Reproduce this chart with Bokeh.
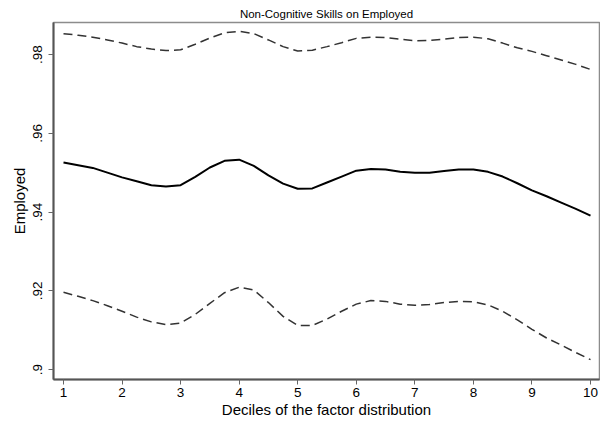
from bokeh.plotting import figure
from bokeh.models import Range1d, FixedTicker
from bokeh.embed import file_html
from bokeh.resources import INLINE

deciles = [1.00, 1.25, 1.50, 1.75, 2.00, 2.25, 2.50, 2.75, 3.00, 3.25, 3.50, 3.75,
           4.00, 4.25, 4.50, 4.75, 5.00, 5.25, 5.50, 5.75, 6.00, 6.25, 6.50, 6.75,
           7.00, 7.25, 7.50, 7.75, 8.00, 8.25, 8.50, 8.75, 9.00, 9.25, 9.50, 9.75, 10.00]

employed = [0.9526, 0.9519, 0.9512, 0.9500, 0.9488, 0.9478, 0.9468, 0.9465, 0.9468,
            0.9489, 0.9513, 0.9530, 0.9533, 0.9517, 0.9493, 0.9472, 0.9459, 0.9460,
            0.9475, 0.9490, 0.9505, 0.9509, 0.9508, 0.9502, 0.9500, 0.9500, 0.9504,
            0.9508, 0.9508, 0.9502, 0.9490, 0.9473, 0.9455, 0.9440, 0.9424, 0.9408, 0.9391]

upper_ci = [0.9853, 0.9849, 0.9844, 0.9837, 0.9829, 0.9820, 0.9814, 0.9810, 0.9812,
            0.9826, 0.9842, 0.9855, 0.9859, 0.9853, 0.9837, 0.9820, 0.9809, 0.9811,
            0.9820, 0.9830, 0.9841, 0.9844, 0.9843, 0.9839, 0.9835, 0.9836, 0.9839,
            0.9843, 0.9844, 0.9840, 0.9829, 0.9817, 0.9808, 0.9797, 0.9786, 0.9775, 0.9762]

lower_ci = [0.9196, 0.9186, 0.9175, 0.9162, 0.9148, 0.9133, 0.9121, 0.9114, 0.9118,
            0.9140, 0.9168, 0.9195, 0.9209, 0.9202, 0.9170, 0.9135, 0.9112, 0.9112,
            0.9128, 0.9148, 0.9166, 0.9175, 0.9173, 0.9166, 0.9163, 0.9165, 0.9170,
            0.9173, 0.9172, 0.9164, 0.9148, 0.9126, 0.9102, 0.9080, 0.9062, 0.9043, 0.9025]

x_ticks = [1, 2, 3, 4, 5, 6, 7, 8, 9, 10]
y_ticks = [0.90, 0.92, 0.94, 0.96, 0.98]
y_tick_labels = [".9", ".92", ".94", ".96", ".98"]

title_text = "Non-Cognitive Skills on Employed"
x_label = "Deciles of the factor distribution"
y_label = "Employed"

FONT = "Liberation Sans"

p = figure(width=600, height=420, output_backend="svg", toolbar_location=None,
           x_range=Range1d(0.8292, 10.1537), y_range=Range1d(0.89746, 0.98813),
           min_border_left=53, min_border_right=1, min_border_top=22, min_border_bottom=41,
           title=title_text)

p.title.text_font = FONT
p.title.text_font_size = "11.5px"
p.title.text_font_style = "normal"
p.title.text_color = "black"
p.title.align = "center"
p.title.standoff = 6
p.title.offset = 4

p.background_fill_color = "white"
p.border_fill_color = "white"
p.outline_line_color = "#8c8c8c"
p.outline_line_width = 1.5
p.xgrid.visible = False
p.ygrid.visible = False

p.line(deciles, upper_ci, line_color="#333333", line_width=1.5, line_dash="9 5")
p.line(deciles, lower_ci, line_color="#333333", line_width=1.5, line_dash="9 5")
p.line(deciles, employed, line_color="black", line_width=2)

for ax in (p.xaxis[0], p.yaxis[0]):
    ax.axis_line_color = "#555555"
    ax.axis_line_width = 2
    ax.major_tick_line_color = "#666666"
    ax.major_tick_line_width = 1
    ax.major_tick_out = 5
    ax.major_tick_in = 0
    ax.minor_tick_line_color = None
    ax.major_label_text_font = FONT
    ax.major_label_text_font_size = "13.5px"
    ax.major_label_text_color = "black"
    ax.axis_label_text_font = FONT
    ax.axis_label_text_font_size = "15px"
    ax.axis_label_text_font_style = "normal"
    ax.axis_label_text_color = "black"

p.xaxis[0].ticker = FixedTicker(ticks=x_ticks)
p.xaxis[0].axis_label = x_label
p.xaxis[0].major_label_standoff = 3
p.xaxis[0].axis_label_standoff = 1

p.yaxis[0].ticker = FixedTicker(ticks=y_ticks)
p.yaxis[0].major_label_overrides = dict(zip(y_ticks, y_tick_labels))
p.yaxis[0].major_label_orientation = "vertical"
p.yaxis[0].axis_label = y_label
p.yaxis[0].major_label_standoff = 6
p.yaxis[0].axis_label_standoff = 3

open("out.html", "w").write(file_html(p, INLINE))
